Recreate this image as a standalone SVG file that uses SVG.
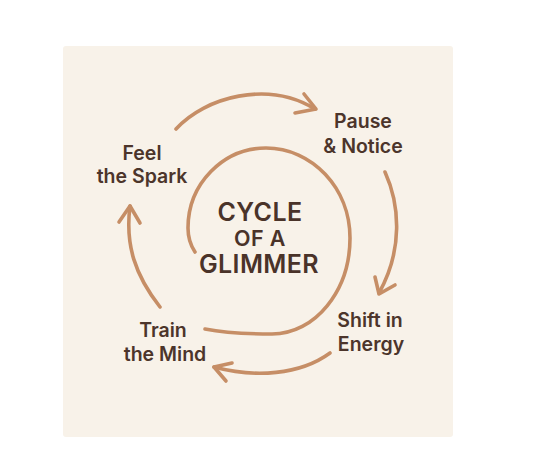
<svg xmlns="http://www.w3.org/2000/svg" width="551" height="469" viewBox="0 0 551 469">
<style>
.ln{fill:none;stroke:#c68e66;stroke-width:3.6;stroke-linecap:round;stroke-linejoin:round}
.lb{font-family:Inter,"Open Sans","Liberation Sans",sans-serif;font-weight:600;font-size:19.5px;fill:#4c352b;text-anchor:middle}
.ttl{font-family:Inter,"Open Sans","Liberation Sans",sans-serif;font-weight:600;fill:#4a3329;text-anchor:middle;letter-spacing:0.4px}
</style>
<rect width="551" height="469" fill="#ffffff"/>
<rect x="63" y="46" width="390" height="391" rx="3" fill="#f8f2e9"/>
<g id="connectors">
<path class="ln" d="M195,252 C191,246 188,238 188,228 C188,184 223,148 266,148 C312,148 350,188 350,238 C350,291 315,334 272,334 C250,334 225,333 205,329"/>
<path class="ln" d="M176,129 C205,97 268,80 315,109"/>
<polyline class="ln" points="304,94 316,109 295,113"/>
<path class="ln" d="M385,172 C400,205 403,250 379,293"/>
<polyline class="ln" points="375,277 379,294 395,285"/>
<path class="ln" d="M330,353 C300,375 255,378 214,367"/>
<polyline class="ln" points="232,363 214,367 226,381"/>
<path class="ln" d="M160,307 C135,275 125,245 130,206"/>
<polyline class="ln" points="119,222 130,206 140,223"/>
</g>
<g id="center">
<text class="ttl" x="260" y="221" font-size="25">CYCLE</text>
<text class="ttl" x="260" y="246" font-size="21.5">OF A</text>
<text class="ttl" x="259" y="273" font-size="25">GLIMMER</text>
</g>
<g id="pause"><text class="lb" x="363" y="128">Pause</text><text class="lb" x="363" y="153">&amp; Notice</text></g>
<g id="shift"><text class="lb" x="370" y="327">Shift in</text><text class="lb" x="371" y="351">Energy</text></g>
<g id="train"><text class="lb" x="163" y="337">Train</text><text class="lb" x="165" y="361">the Mind</text></g>
<g id="feel"><text class="lb" x="142" y="160">Feel</text><text class="lb" x="142" y="183">the Spark</text></g>
</svg>
